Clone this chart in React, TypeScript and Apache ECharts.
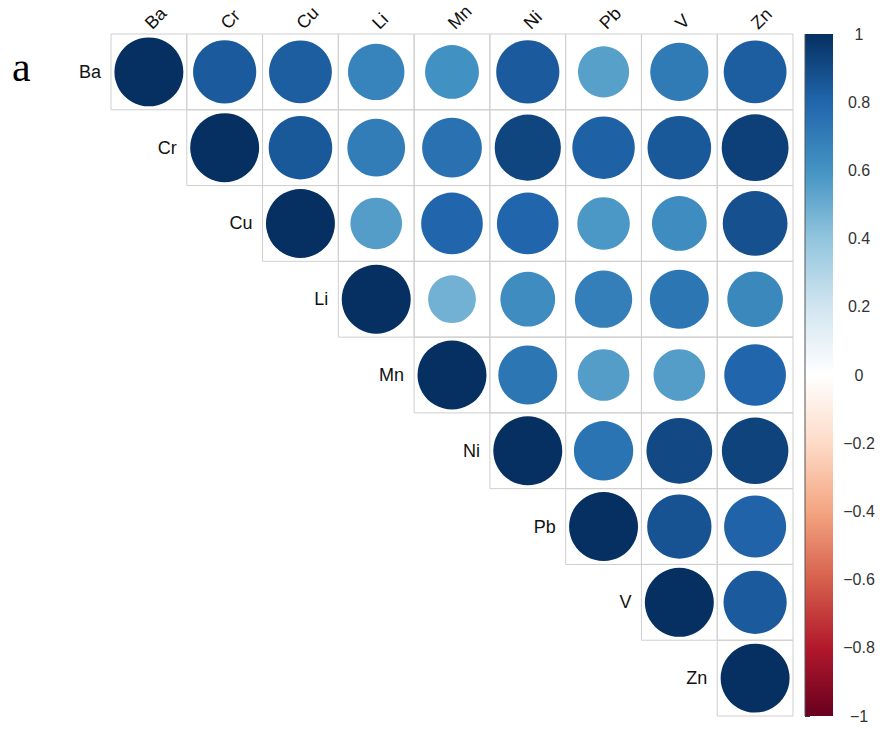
import React, { useEffect, useRef } from "react";
import * as echarts from "echarts";

// Elements in matrix order
const elements = ["Ba", "Cr", "Cu", "Li", "Mn", "Ni", "Pb", "V", "Zn"];

// Upper-triangle correlation coefficients, one array per row (starting at the diagonal)
const rowBa = [1, 0.84, 0.83, 0.67, 0.61, 0.84, 0.55, 0.71, 0.83];
const rowCr = [1, 0.85, 0.7, 0.75, 0.92, 0.82, 0.85, 0.94];
const rowCu = [1, 0.56, 0.8, 0.8, 0.58, 0.63, 0.88];
const rowLi = [1, 0.48, 0.63, 0.69, 0.73, 0.65];
const rowMn = [1, 0.73, 0.56, 0.56, 0.8];
const rowNi = [1, 0.74, 0.91, 0.93];
const rowPb = [1, 0.87, 0.81];
const rowV = [1, 0.84];
const rowZn = [1];

const rows = [rowBa, rowCr, rowCu, rowLi, rowMn, rowNi, rowPb, rowV, rowZn];

// Colour-legend tick values
const legendTicks = [1, 0.8, 0.6, 0.4, 0.2, 0, -0.2, -0.4, -0.6, -0.8, -1];

// Diverging red-blue palette from -1 to 1
const palette = [
  "#67001F", "#B2182B", "#D6604D", "#F4A582", "#FDDBC7", "#FFFFFF",
  "#D1E5F0", "#92C5DE", "#4393C3", "#2166AC", "#053061",
];

const sansFont = "'Liberation Sans', Arial, sans-serif";

const fmt = (v: number) => {
  const r = Math.round(v * 10) / 10;
  if (r === 0) return "0";
  return r < 0 ? "\u2212" + String(Math.abs(r)) : String(r);
};

export default function App() {
  const ref = useRef<HTMLDivElement>(null);

  useEffect(() => {
    if (!ref.current) return;
    const chart = echarts.init(ref.current, undefined, { renderer: "svg" });

    const cells: number[][] = [];
    rows.forEach((vals, r) => {
      vals.forEach((v, k) => cells.push([r + k, r, v]));
    });

    const gradStops = palette
      .slice()
      .reverse()
      .map((c, i) => ({ offset: i / (palette.length - 1), color: c }));

    chart.setOption({
      animation: false,
      backgroundColor: "#ffffff",
      grid: [
        { left: 111, top: 34, width: 682, height: 682 },
        { left: 805, top: 34, width: 28, height: 682 },
      ],
      xAxis: [
        {
          type: "category",
          data: elements,
          position: "top",
          gridIndex: 0,
          show: false,
        },
        {
          type: "value",
          gridIndex: 1,
          min: 0,
          max: 1,
          show: false,
        },
      ],
      yAxis: [
        {
          type: "category",
          data: elements,
          inverse: true,
          gridIndex: 0,
          show: false,
        },
        {
          type: "value",
          gridIndex: 1,
          min: -1,
          max: 1,
          interval: 0.2,
          position: "right",
          axisLine: { show: false },
          splitLine: { show: false },
          axisTick: { show: true, length: 5, lineStyle: { color: "#333", width: 1 } },
          axisLabel: {
            align: "center",
            margin: 26,
            fontFamily: sansFont,
            fontSize: 16,
            color: "#333",
            formatter: (v: number) => fmt(v),
            customValues: legendTicks,
          },
          axisTickCustomValues: legendTicks,
        },
      ],
      visualMap: {
        show: false,
        type: "continuous",
        min: -1,
        max: 1,
        dimension: 2,
        seriesIndex: 0,
        inRange: { color: palette },
      },
      graphic: [
        {
          type: "text",
          left: 12,
          top: 46,
          style: {
            text: "a",
            font: "42px 'Liberation Serif', 'Times New Roman', serif",
            fill: "#000",
          },
        },
      ],
      series: [
        {
          type: "custom",
          xAxisIndex: 0,
          yAxisIndex: 0,
          data: cells,
          renderItem: (params: any, api: any) => {
            const col = api.value(0);
            const row = api.value(1);
            const v = api.value(2);
            const c = api.coord([col, row]);
            const sz = api.size([1, 1]);
            const w = sz[0];
            const h = sz[1];
            const children: any[] = [
              {
                type: "rect",
                shape: { x: c[0] - w / 2, y: c[1] - h / 2, width: w, height: h },
                style: { fill: "none", stroke: "#cfcfcf", lineWidth: 1 },
              },
              {
                type: "circle",
                shape: { cx: c[0], cy: c[1], r: Math.sqrt(Math.abs(v)) * w * 0.455 },
                style: { fill: api.visual("color") },
              },
            ];
            // row name, left of the diagonal cell
            if (col === row) {
              children.push({
                type: "text",
                x: c[0] - w / 2 - 10,
                y: c[1],
                style: {
                  text: elements[row],
                  font: `18px ${sansFont}`,
                  fill: "#111",
                  align: "right",
                  verticalAlign: "middle",
                },
              });
            }
            // column name, slanted above the first row
            if (row === 0) {
              children.push({
                type: "text",
                x: c[0] - 1,
                y: c[1] - h / 2 - 8,
                rotation: Math.PI / 4,
                style: {
                  text: elements[col],
                  font: `18px ${sansFont}`,
                  fill: "#111",
                  align: "left",
                  verticalAlign: "middle",
                },
              });
            }
            return { type: "group", children };
          },
        },
        {
          type: "custom",
          xAxisIndex: 1,
          yAxisIndex: 1,
          data: [[0, 1]],
          renderItem: (params: any, api: any) => {
            const tl = api.coord([0, 1]);
            const br = api.coord([1, -1]);
            return {
              type: "group",
              children: [
                {
                  type: "rect",
                  shape: { x: tl[0], y: tl[1], width: br[0] - tl[0], height: br[1] - tl[1] },
                  style: {
                    fill: new echarts.graphic.LinearGradient(0, 0, 0, 1, gradStops),
                  },
                },
                {
                  type: "line",
                  shape: { x1: tl[0], y1: tl[1], x2: tl[0], y2: br[1] },
                  style: { stroke: "#555", lineWidth: 1 },
                },
              ],
            };
          },
        },
      ],
    });

    return () => chart.dispose();
  }, []);

  return (
    <div
      ref={ref}
      style={{ position: "fixed", left: 0, top: 0, width: 882, height: 729 }}
    />
  );
}
